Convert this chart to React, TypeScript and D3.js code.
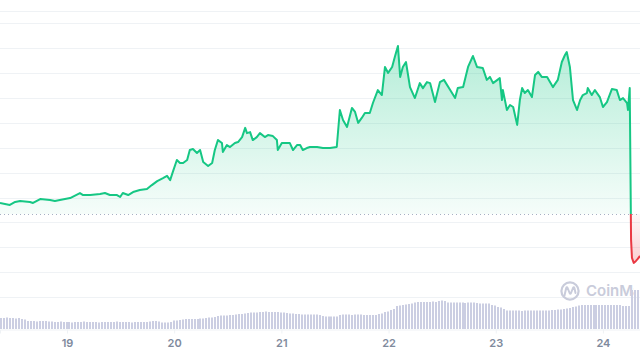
import React, { useEffect, useRef } from 'react';
import * as d3 from 'd3';

// hours counted from 18 Nov 00:00
const priceHours = [
  9.0, 11.2, 12.4, 13.5, 15.7, 16.4, 18.0, 20.2, 21.3, 22.4, 24.7, 26.9, 27.6, 29.2, 31.4, 32.5, 33.6, 35.2, 35.9, 36.5,
  37.7, 38.8, 40.3, 41.9, 43.0, 44.2, 45.5, 46.4, 47.1, 47.7, 48.6, 49.3, 50.0, 50.9, 51.5, 52.2, 53.1, 53.8, 54.5, 55.6,
  56.5, 57.1, 57.8, 58.7, 58.9, 59.8, 60.5, 61.6, 62.3, 63.2, 63.9, 64.3, 65.0, 65.6, 66.5, 67.2, 68.3, 69.0, 70.1, 71.0,
  71.2, 72.1, 73.3, 73.9, 74.6, 75.5, 76.2, 76.8, 77.7, 78.4, 80.0, 81.3, 82.9, 84.4, 85.1, 85.8, 86.7, 87.8, 88.5, 89.2,
  90.0, 90.7, 91.8, 92.5, 93.6, 94.5, 95.2, 95.9, 96.8, 97.4, 98.1, 98.6, 99.2, 99.9, 100.8, 101.9, 103.0, 103.7, 104.6, 105.3,
  106.4, 107.5, 108.4, 109.8, 110.9, 111.5, 112.7, 113.8, 114.9, 115.8, 117.1, 118.0, 118.7, 119.4, 120.9, 121.4, 121.6, 122.5, 123.2, 123.9,
  124.8, 125.4, 125.9, 126.5, 127.2, 128.1, 128.8, 129.5, 130.3, 131.5, 132.8, 133.9, 134.8, 135.5, 135.9, 136.6, 137.3, 138.2, 138.9, 139.5,
  140.4, 140.6, 141.5, 142.2, 143.3, 144.0, 144.9, 146.0, 147.1, 147.8, 148.5, 149.4, 149.6, 150.0, 150.3, 150.5, 150.9, 151.4, 151.8, 152.3,
];
const priceValues = [
  3.78, 3.70, 3.82, 3.86, 3.82, 3.78, 3.94, 3.90, 3.86, 3.90, 3.98, 4.18, 4.10, 4.10, 4.14, 4.18, 4.10, 4.10, 4.02, 4.18,
  4.10, 4.22, 4.30, 4.34, 4.50, 4.66, 4.78, 4.87, 4.70, 5.03, 5.51, 5.39, 5.39, 5.51, 5.91, 5.95, 5.79, 5.91, 5.43, 5.27,
  5.39, 5.91, 6.31, 6.19, 5.83, 6.11, 6.03, 6.19, 6.23, 6.43, 6.80, 6.59, 6.63, 6.31, 6.43, 6.59, 6.43, 6.51, 6.47, 6.31,
  5.91, 6.19, 6.19, 6.19, 5.91, 6.11, 6.11, 5.91, 5.99, 6.03, 6.03, 5.99, 5.99, 6.03, 7.52, 7.12, 6.84, 7.60, 7.44, 7.00,
  7.20, 7.40, 7.40, 7.80, 8.32, 8.12, 9.25, 9.01, 9.25, 9.65, 10.09, 8.85, 9.25, 9.45, 8.44, 8.00, 8.60, 8.40, 8.64, 8.60,
  7.84, 8.64, 8.73, 8.32, 8.00, 8.40, 8.44, 9.25, 9.69, 9.25, 9.21, 8.73, 8.85, 8.60, 8.80, 7.92, 8.32, 7.52, 7.72, 7.64,
  6.92, 7.92, 8.40, 8.20, 8.32, 8.04, 8.93, 9.05, 8.85, 8.85, 8.44, 8.73, 9.45, 9.73, 9.85, 9.25, 7.92, 7.52, 7.92, 8.12,
  8.20, 8.40, 8.12, 8.32, 8.04, 7.64, 7.84, 8.36, 8.32, 7.92, 8.00, 7.80, 7.52, 8.40, 2.29, 1.57, 1.37, 1.45, 1.53, 1.65,
];

// one volume bar every 40 minutes from hour 9
const volumeValues = [
  22, 22, 23, 22, 22, 21, 22, 20, 19,
  16, 16, 16, 15, 16, 16, 16,
  15, 15, 14, 14, 15, 14, 14, 14, 13, 14, 14, 14, 15, 14, 14, 14, 14, 13, 14, 14, 14, 14, 14, 15, 14, 14, 14, 14, 13, 14, 14, 14, 14, 14, 15,
  16, 16, 15, 13, 13, 13, 14, 17, 17, 18,
  19, 20, 20, 20, 20, 20, 21, 21, 22, 23, 23, 24,
  26, 27, 27, 27, 28, 28, 29, 30, 30, 31, 32, 33, 33, 33,
  34, 34, 35, 34, 34, 34, 34, 33, 33, 32, 31, 31, 30, 30,
  29, 29, 29, 29, 29, 29, 28, 26, 25, 25, 25, 25, 25,
  28, 29, 29, 29, 28, 29, 29, 29, 28, 28, 28, 28, 28,
  30, 31, 34, 35, 38, 40, 46, 47, 48, 49, 50, 51,
  53, 54, 54, 54, 54, 54, 55, 54, 56, 57, 56,
  53, 53, 53, 53, 53, 53, 52, 53, 53, 53, 52, 51, 51, 51, 51, 48, 47, 44, 43, 40,
  37, 37, 37, 37, 37, 36, 37, 37, 37, 37, 37, 37, 37, 37, 37, 38, 38,
  39, 39, 40, 41, 42, 44, 45,
  47, 48, 48, 48, 48, 48, 48, 48, 48, 48, 48, 48, 48, 48, 48,
  46, 46, 46, 78, 78, 78,
];

const dayTicks = [24, 48, 72, 96, 120, 144];
const dayLabels = ['19', '20', '21', '22', '23', '24'];
const gridValues = [0, 1, 2, 3, 4, 5, 6, 7, 8, 9, 10, 11, 11.5];
const openPrice = 3.34;

const GREEN = '#16c784';
const RED = '#ea3943';

const App: React.FC = () => {
  const svgRef = useRef<SVGSVGElement>(null);

  useEffect(() => {
    if (!svgRef.current) return;
    const svg = d3.select(svgRef.current);
    svg.selectAll('*').remove();

    const x = d3.scaleLinear().domain([9, 152.3]).range([0, 640]);
    const y = d3.scaleLinear().domain([0, 11.5]).range([297, 11]);
    const yVol = d3.scaleLinear().domain([0, 100]).range([329, 279]);
    const baseY = y(openPrice);

    const data = priceHours.map((h, i) => ({ h, p: priceValues[i] }));

    const defs = svg.append('defs');
    const gUp = defs.append('linearGradient').attr('id', 'gUp')
      .attr('gradientUnits', 'userSpaceOnUse')
      .attr('x1', 0).attr('x2', 0).attr('y1', y(10.1)).attr('y2', baseY);
    gUp.append('stop').attr('offset', 0).attr('stop-color', GREEN).attr('stop-opacity', 0.32);
    gUp.append('stop').attr('offset', 1).attr('stop-color', GREEN).attr('stop-opacity', 0.04);
    const gDown = defs.append('linearGradient').attr('id', 'gDown')
      .attr('gradientUnits', 'userSpaceOnUse')
      .attr('x1', 0).attr('x2', 0).attr('y1', baseY).attr('y2', y(1.3));
    gDown.append('stop').attr('offset', 0).attr('stop-color', RED).attr('stop-opacity', 0.04);
    gDown.append('stop').attr('offset', 1).attr('stop-color', RED).attr('stop-opacity', 0.25);

    defs.append('clipPath').attr('id', 'clipUp')
      .append('rect').attr('x', 0).attr('y', 0).attr('width', 640).attr('height', baseY);
    defs.append('clipPath').attr('id', 'clipDown')
      .append('rect').attr('x', 0).attr('y', baseY).attr('width', 640).attr('height', 360 - baseY);
    defs.append('clipPath').attr('id', 'clipWm')
      .append('rect').attr('x', 550).attr('y', 270).attr('width', 84).attr('height', 40);

    // grid
    svg.append('g')
      .selectAll('line')
      .data(gridValues)
      .join('line')
      .attr('x1', 0).attr('x2', 640)
      .attr('y1', d => Math.round(y(d)) + 0.5).attr('y2', d => Math.round(y(d)) + 0.5)
      .attr('stroke', '#eff2f5').attr('stroke-width', 1);

    // watermark (hidden behind the last volume bars, as in the original)
    const wm = svg.append('g').attr('clip-path', 'url(#clipWm)');
    wm.append('circle').attr('cx', 570).attr('cy', 291).attr('r', 8.6)
      .attr('fill', 'none').attr('stroke', '#c9ccdb').attr('stroke-width', 2.2);
    wm.append('path')
      .attr('d', 'M564.5,295.5 L566.2,288 Q566.8,286.5 567.6,288 L569.6,293 Q570.3,294.3 571,293 L573,288 Q573.8,286.5 574.4,288 L575.5,293')
      .attr('fill', 'none').attr('stroke', '#c9ccdb')
      .attr('stroke-width', 2).attr('stroke-linecap', 'round').attr('stroke-linejoin', 'round');
    wm.append('text')
      .attr('x', 586).attr('y', 296)
      .attr('font-family', 'Inter, sans-serif').attr('font-size', 15).attr('font-weight', 600)
      .attr('fill', '#c9ccdb')
      .text('CoinMarketCap');

    // volume bars
    svg.append('g')
      .selectAll('rect')
      .data(volumeValues)
      .join('rect')
      .attr('x', (_, i) => Math.round(x(9 + i * (40 / 60))))
      .attr('width', 2)
      .attr('y', d => yVol(d))
      .attr('height', d => yVol(0) - yVol(d))
      .attr('fill', '#cbcee2');

    // baseline (opening price)
    svg.append('line')
      .attr('x1', 0).attr('x2', 640)
      .attr('y1', Math.round(baseY) + 0.5).attr('y2', Math.round(baseY) + 0.5)
      .attr('stroke', '#a6b0c3').attr('stroke-width', 1)
      .attr('stroke-dasharray', '1,3');

    const area = d3.area<{ h: number; p: number }>()
      .x(d => x(d.h)).y0(baseY).y1(d => y(d.p));
    const line = d3.line<{ h: number; p: number }>()
      .x(d => x(d.h)).y(d => y(d.p));

    svg.append('path').datum(data).attr('d', area)
      .attr('fill', 'url(#gUp)').attr('clip-path', 'url(#clipUp)');
    svg.append('path').datum(data).attr('d', area)
      .attr('fill', 'url(#gDown)').attr('clip-path', 'url(#clipDown)');
    svg.append('path').datum(data).attr('d', line)
      .attr('fill', 'none').attr('stroke', GREEN).attr('stroke-width', 2)
      .attr('stroke-linejoin', 'round').attr('clip-path', 'url(#clipUp)');
    svg.append('path').datum(data).attr('d', line)
      .attr('fill', 'none').attr('stroke', RED).attr('stroke-width', 2)
      .attr('stroke-linejoin', 'round').attr('clip-path', 'url(#clipDown)');

    // x axis
    const axis = d3.axisBottom(x)
      .tickValues(dayTicks)
      .tickFormat((_, i) => dayLabels[i])
      .tickSize(4)
      .tickPadding(6);
    const ax = svg.append('g').attr('transform', 'translate(0,329.5)').call(axis);
    ax.select('.domain').attr('stroke', '#eff2f5');
    ax.selectAll('.tick line').attr('stroke', '#eff2f5');
    ax.selectAll('.tick text')
      .attr('fill', '#808a9d')
      .attr('font-family', 'Inter, sans-serif')
      .attr('font-size', 11)
      .attr('font-weight', 600);
  }, []);

  return (
    <svg
      ref={svgRef}
      width={640}
      height={360}
      style={{ position: 'absolute', left: 0, top: 0, background: '#fff' }}
    />
  );
};

export default App;
